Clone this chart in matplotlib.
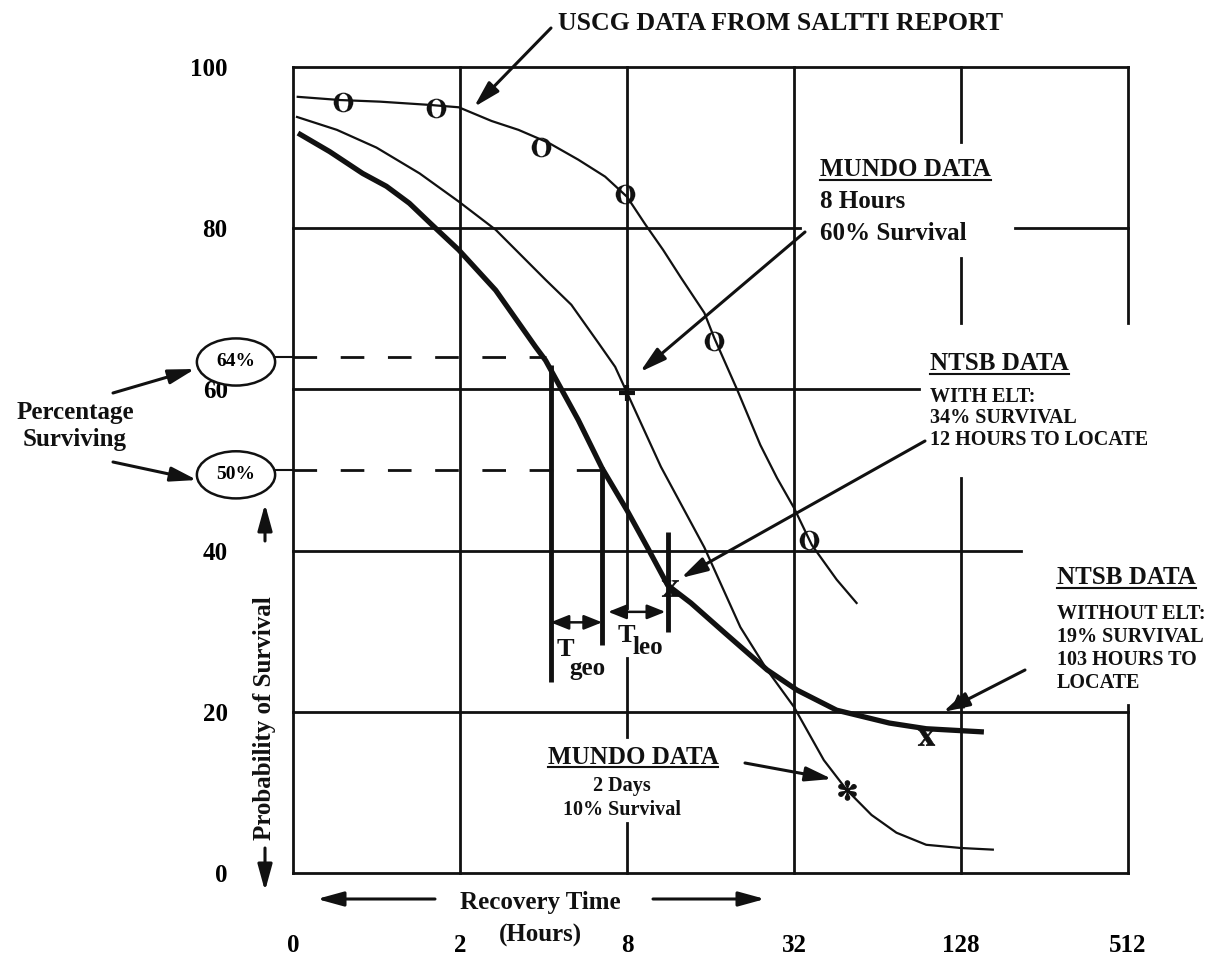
import matplotlib
matplotlib.use('Agg')
import matplotlib.pyplot as plt
from matplotlib.lines import Line2D
import matplotlib.transforms as mtrans

W, H = 1218, 960

# ---------------- data ----------------
x_ticks = [0.5, 2, 8, 32, 128, 512]
x_tick_labels = ['0', '2', '8', '32', '128', '512']
y_ticks = [0, 20, 40, 60, 80, 100]
y_tick_labels = ['0', '20', '40', '60', '80', '100']

uscg_hours = [0.52, 0.74, 1.03, 1.55, 1.98, 2.6, 3.25, 4.17, 5.34, 6.67, 8.0, 9.3,
              10.8, 12.5, 15.2, 16.5, 20.0, 24.2, 27.8, 32.0, 37.1, 45.6, 53.8]
uscg_pct = [96.3, 95.9, 95.7, 95.3, 95.0, 93.3, 92.2, 90.6, 88.5, 86.4, 83.9, 80.5,
            77.3, 73.9, 69.5, 66.4, 59.9, 53.1, 49.0, 45.3, 40.7, 36.4, 33.5]
uscg_obs_hours = [0.755, 1.64, 3.93, 7.87, 16.5, 36.2]
uscg_obs_pct = [95.7, 94.9, 90.1, 84.2, 66.0, 41.3]

mundo_hours = [0.517, 0.72, 1.0, 1.43, 1.98, 2.69, 4.07, 5.04, 6.3, 7.25, 8.0, 10.6,
               15.2, 20.5, 25.6, 32.0, 41.0, 49.6, 60.9, 74.9, 95.9, 128, 166.7]
mundo_pct = [93.8, 92.2, 90.0, 86.8, 83.3, 79.8, 73.6, 70.5, 65.8, 62.8, 59.6, 50.4,
             40.4, 30.5, 25.2, 20.6, 14.0, 10.3, 7.2, 5.0, 3.5, 3.1, 2.9]
mundo_obs_hours = [8.0, 49.6]
mundo_obs_pct = [59.6, 10.3]

ntsb_hours = [0.521, 0.678, 0.891, 1.086, 1.313, 1.587, 1.98, 2.69, 3.74, 4.07, 5.34,
              6.51, 8.0, 9.51, 11.22, 13.6, 18.0, 25.6, 32.8, 45.6, 70.7, 95.9, 154.8]
ntsb_pct = [91.8, 89.5, 86.8, 85.2, 83.1, 80.4, 77.3, 72.3, 65.3, 63.6, 56.2,
            50.2, 45.0, 40.3, 35.7, 33.5, 29.8, 25.2, 22.7, 20.2, 18.6, 17.9, 17.5]
ntsb_obs_hours = [11.4, 95.9]
ntsb_obs_pct = [35.3, 16.9]

bar_hours = [4.24, 6.51, 11.2]
bar_top = [63.0, 50.4, 42.3]
bar_bottom = [23.7, 28.3, 29.9]

level_pct = [64, 50]
level_end_hours = [4.1, 6.4]
level_labels = ['64%', '50%']

# ---------------- style ----------------
plt.rcParams['font.family'] = ['Liberation Serif', 'DejaVu Serif']
plt.rcParams['font.weight'] = 'bold'
plt.rcParams['mathtext.fontset'] = 'stix'
plt.rcParams['lines.scale_dashes'] = False
K = '#111111'

fig = plt.figure(figsize=(W / 100, H / 100), dpi=100)
fig.patch.set_facecolor('white')
L, R, T, B = 293, 1128, 67, 873
ax = fig.add_axes([L / W, 1 - B / H, (R - L) / W, (B - T) / H])
ax.set_xscale('log', base=2)
ax.set_xlim(0.5, 512)
ax.set_ylim(0, 100)
for s in ax.spines.values():
    s.set_visible(False)
ax.minorticks_off()
ax.set_xticks(x_ticks, x_tick_labels, fontsize=18, fontweight='bold')
ax.set_yticks(y_ticks, y_tick_labels, fontsize=18, fontweight='bold')
ax.tick_params(axis='x', length=0, pad=44)
ax.tick_params(axis='y', length=0, pad=47)
ax.minorticks_off()


def fp(px, py):
    return (px / W, 1 - py / H)


# ---------------- grid / frame (broken as in the original) ----------------
glw = 2.0
vert = {0.5: [(0, 100)], 2: [(0, 100)], 8: [(32.9, 100), (16.9, 26.7), (0, 6.2)],
        32: [(0, 100)], 128: [(90.7, 100), (68.2, 76.3), (0, 49.0)],
        512: [(68.2, 100), (0, 20.8)]}
horiz = {0: [(0.5, 512)], 20: [(0.5, 512)], 40: [(0.5, 210)], 60: [(0.5, 90.5)],
         80: [(0.5, 33.6), (201, 512)], 100: [(0.5, 512)]}
for xv, segs in vert.items():
    for a, b in segs:
        ax.plot([xv, xv], [a, b], color=K, lw=glw, clip_on=False,
                solid_capstyle='projecting', zorder=1)
for yv, segs in horiz.items():
    for a, b in segs:
        ax.plot([a, b], [yv, yv], color=K, lw=glw, clip_on=False,
                solid_capstyle='projecting', zorder=1)

# ---------------- curves ----------------
ax.plot(uscg_hours, uscg_pct, color=K, lw=1.6, zorder=3)
ax.plot(mundo_hours, mundo_pct, color=K, lw=1.6, zorder=3)
ax.plot(ntsb_hours, ntsb_pct, color=K, lw=3.8, zorder=3, solid_capstyle='butt')

ax.plot(uscg_obs_hours, uscg_obs_pct, ls='none', marker=r'$\mathrm{O}$', ms=14,
        color=K, mew=0.1, zorder=5)
ax.plot(mundo_obs_hours[:1], mundo_obs_pct[:1], ls='none', marker='+', ms=11,
        mew=3, color=K, zorder=5)
ax.plot(mundo_obs_hours[1:], mundo_obs_pct[1:], ls='none', marker=r'$\ast$', ms=14,
        color=K, mew=0.8, zorder=5)
ax.plot(ntsb_obs_hours, ntsb_obs_pct, ls='none', marker=r'$\mathbf{x}$', ms=12,
        color=K, mew=0.5, zorder=5)

# vertical bars
for xb, tp, bt in zip(bar_hours, bar_top, bar_bottom):
    ax.plot([xb, xb], [bt, tp], color=K, lw=3.5, zorder=4, solid_capstyle='butt')

# dashed levels + ellipses
blend = mtrans.blended_transform_factory(fig.transFigure, ax.transData)
for lvl, xe, lab in zip(level_pct, level_end_hours, level_labels):
    ax.plot([0.5, xe], [lvl, lvl], color=K, lw=2.0, dashes=(17, 17), zorder=2,
            clip_on=False)
    ax.plot([0.42, 0.5], [lvl, lvl], color=K, lw=1.5, zorder=2, clip_on=False)
    ax.text(236 / W, lvl - 0.6, lab, transform=blend, ha='center', va='center',
            fontsize=14, fontweight='bold',
            bbox=dict(boxstyle='ellipse,pad=0.42', fc='white', ec=K, lw=1.8))

# T_geo / T_leo double arrows
darrow = dict(arrowstyle='<|-|>,head_length=0.55,head_width=0.22', color=K, lw=1.8,
              shrinkA=0, shrinkB=0, mutation_scale=20)
ax.annotate('', xy=(bar_hours[1], 31.1), xytext=(bar_hours[0], 31.1), arrowprops=darrow)
ax.annotate('', xy=(11.0, 32.4), xytext=(6.84, 32.4), arrowprops=darrow)

# ---------------- texts ----------------
def ftext(px, py, s, size=18, ha='left', va='center', **kw):
    return fig.text(px / W, 1 - py / H, s, fontsize=size, ha=ha, va=va,
                    fontweight='bold', color=K, **kw)


ftext(558, 23, 'USCG DATA FROM SALTTI REPORT', 18.6)
t1 = ftext(820, 170, 'MUNDO DATA', 18)
ftext(820, 202, '8 Hours', 18)
ftext(820, 233, '60% Survival', 18)
t2 = ftext(930, 364, 'NTSB DATA', 18)
ftext(930, 397, 'WITH ELT:', 14.5)
ftext(930, 418, '34% SURVIVAL', 14.5)
ftext(930, 440, '12 HOURS TO LOCATE', 14.5)
t3 = ftext(1057, 578, 'NTSB DATA', 18)
ftext(1057, 614, 'WITHOUT ELT:', 14.5)
ftext(1057, 637, '19% SURVIVAL', 14.5)
ftext(1057, 660, '103 HOURS TO', 14.5)
ftext(1057, 683, 'LOCATE', 14.5)
t4 = ftext(633, 757, 'MUNDO DATA', 18, ha='center')
ftext(622, 786, '2 Days', 14.5, ha='center')
ftext(622, 810, '10% Survival', 14.5, ha='center')

ftext(565, 649, 'T', 19, ha='center')
ftext(587, 668, 'geo', 18, ha='center')
ftext(626, 636, 'T', 19, ha='center')
ftext(648, 648, 'leo', 18, ha='center')

ftext(75, 412, 'Percentage', 18, ha='center')
ftext(75, 440, 'Surviving', 18, ha='center')
ftext(265, 718, 'Probability of Survival', 18, ha='center', rotation=90)
ftext(540, 902, 'Recovery Time', 18, ha='center')
ftext(540, 935, '(Hours)', 18, ha='center')

ax.plot([125], [21.4], ls='none', marker=r'$\Delta$', ms=9, color=K, zorder=5)

# ---------------- arrows ----------------
arr = dict(arrowstyle='-|>,head_length=0.8,head_width=0.22', color=K, lw=2.2,
           shrinkA=0, shrinkB=0, mutation_scale=20)
for (x0, y0), (x1, y1) in [((551, 28), (474, 107)), ((805, 232), (640, 372)),
                           ((925, 441), (681, 578)), ((1025, 670), (943, 712)),
                           ((745, 763), (832, 779)), ((113, 393), (195, 369)),
                           ((113, 462), (197, 480)), ((435, 899), (317, 899)),
                           ((653, 899), (765, 899)), ((265, 541), (265, 504)),
                           ((265, 848), (265, 891))]:
    fig.add_artist(matplotlib.patches.FancyArrowPatch(
        fp(x0, y0), fp(x1, y1), transform=fig.transFigure, **arr))

# underlines
fig.canvas.draw()
rend = fig.canvas.get_renderer()
for t in (t1, t2, t3, t4):
    bb = t.get_window_extent(rend)
    yy = bb.y0 + 2
    fig.add_artist(Line2D([bb.x0 / W, bb.x1 / W], [yy / H, yy / H],
                          transform=fig.transFigure, color=K, lw=1.5))

fig.savefig('out.png', dpi=100, facecolor='white')
